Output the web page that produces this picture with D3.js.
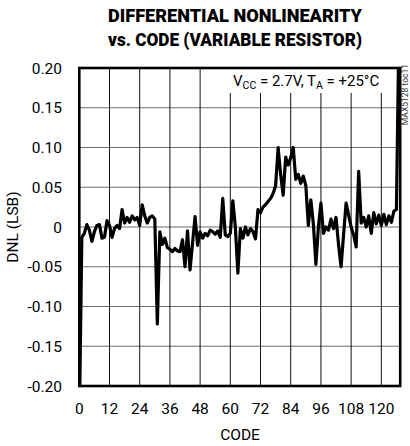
<!DOCTYPE html>
<html>
<head>
<meta charset="utf-8">
<script src="https://cdn.jsdelivr.net/npm/d3@7"></script>
<style>
  body { margin: 0; background: #fff; }
  text { font-family: Roboto, "DejaVu Sans", sans-serif; }
</style>
</head>
<body>
<div id="chart"></div>
<script>
// DNL per code, codes 0..127 (ends run off the chart)
var dnl = [
  -0.25, -0.013, -0.008, 0.003, -0.004, -0.018, -0.006, 0.002, 0.003, -0.014,
  -0.013, 0.008, 0.002, -0.013, -0.002, 0.002, -0.002, 0.022, 0.005, 0.012,
  0.006, 0.014, 0.009, 0.012, 0.002, 0.028, 0.014, 0.005, 0.012, 0.014,
  0.010, -0.122, -0.006, -0.022, -0.014, -0.026, -0.028, -0.031, -0.027, -0.030,
  -0.031, -0.016, -0.050, -0.005, -0.054, -0.020, 0.013, -0.023, -0.006, -0.014,
  -0.008, -0.011, -0.004, -0.006, -0.009, -0.005, -0.013, 0.036, -0.010, -0.012,
  -0.008, 0.033, 0.000, -0.058, -0.002, -0.014, 0.000, -0.010, -0.002, -0.006,
  -0.015, 0.022, 0.018, 0.025, 0.028, 0.032, 0.036, 0.042, 0.052, 0.100,
  0.066, 0.040, 0.088, 0.078, 0.087, 0.100, 0.060, 0.066, 0.055, 0.064,
  0.052, 0.002, 0.034, 0.004, -0.047, 0.000, 0.030, -0.008, 0.000, -0.004,
  0.010, -0.002, 0.012, -0.022, -0.050, -0.010, 0.030, 0.015, 0.000, -0.010,
  -0.025, 0.070, 0.005, 0.012, 0.000, 0.014, -0.008, 0.018, 0.004, 0.015,
  0.002, 0.016, 0.003, 0.014, 0.006, 0.020, 0.022, 0.25
];
var xTicks = [0, 12, 24, 36, 48, 60, 72, 84, 96, 108, 120];
var yTicks = [-0.20, -0.15, -0.10, -0.05, 0, 0.05, 0.10, 0.15, 0.20];
var yTickLabels = ["-0.20", "-0.15", "-0.10", "-0.05", "0", "0.05", "0.10", "0.15", "0.20"];

var W = 410, H = 446;
var plotL = 79.3, plotR = 400.2, plotT = 68, plotB = 386;

var svg = d3.select("#chart")
  .append("svg")
  .attr("width", W)
  .attr("height", H);

var x = d3.scaleLinear().domain([0, 127.5]).range([plotL, plotR]);
var y = d3.scaleLinear().domain([-0.2, 0.2]).range([plotB, plotT]);

// title
svg.append("text")
  .attr("x", 235).attr("y", 22)
  .attr("text-anchor", "middle")
  .attr("font-weight", 900)
  .attr("font-size", "19px")
  .attr("textLength", 254).attr("lengthAdjust", "spacingAndGlyphs")
  .text("DIFFERENTIAL NONLINEARITY");
svg.append("text")
  .attr("x", 235).attr("y", 46)
  .attr("text-anchor", "middle")
  .attr("font-weight", 900)
  .attr("font-size", "19px")
  .attr("textLength", 254).attr("lengthAdjust", "spacingAndGlyphs")
  .text("vs. CODE (VARIABLE RESISTOR)");

// grid
svg.selectAll(".hgrid")
  .data(yTicks.slice(1, -1))
  .enter()
  .append("line")
  .attr("class", "hgrid")
  .attr("x1", plotL).attr("x2", plotR)
  .attr("y1", function(d) { return y(d); })
  .attr("y2", function(d) { return y(d); })
  .attr("stroke", "#6e6e6e")
  .attr("stroke-width", 1.2);

svg.selectAll(".vgrid")
  .data(xTicks.slice(1))
  .enter()
  .append("line")
  .attr("class", "vgrid")
  .attr("x1", function(d) { return x(d); })
  .attr("x2", function(d) { return x(d); })
  .attr("y1", plotT).attr("y2", plotB)
  .attr("stroke", "#111")
  .attr("stroke-width", 1);

// condition label box
svg.append("rect")
  .attr("x", 229).attr("y", plotT + 1)
  .attr("width", 154).attr("height", 24)
  .attr("fill", "#fff");

var cond = svg.append("text")
  .attr("x", 233)
  .attr("y", 86)
  .attr("font-size", "15px")
  .attr("fill", "#000");
cond.append("tspan").text("V");
cond.append("tspan").attr("font-size", "10.5px").attr("dy", 3).text("CC");
cond.append("tspan").attr("dy", -3).text(" = 2.7V, T");
cond.append("tspan").attr("font-size", "10.5px").attr("dy", 3).text("A");
cond.append("tspan").attr("dy", -3).text(" = +25\u00B0C");

// data line
svg.append("clipPath")
  .attr("id", "plotClip")
  .append("rect")
  .attr("x", plotL).attr("y", plotT)
  .attr("width", plotR - plotL).attr("height", plotB - plotT);

var line = d3.line()
  .x(function(d, i) { return x(i); })
  .y(function(d) { return y(d); });

svg.append("path")
  .datum(dnl)
  .attr("clip-path", "url(#plotClip)")
  .attr("d", line)
  .attr("fill", "none")
  .attr("stroke", "#000")
  .attr("stroke-width", 3.2)
  .attr("stroke-linejoin", "round");

// frame
svg.append("rect")
  .attr("x", plotL).attr("y", plotT)
  .attr("width", plotR - plotL).attr("height", plotB - plotT)
  .attr("fill", "none")
  .attr("stroke", "#000")
  .attr("stroke-width", 2.6);

// tick labels
svg.selectAll(".xlab")
  .data(xTicks)
  .enter()
  .append("text")
  .attr("class", "xlab")
  .attr("x", function(d) { return x(d); })
  .attr("y", 414)
  .attr("text-anchor", "middle")
  .attr("font-size", "15.5px")
  .text(function(d) { return d; });

svg.selectAll(".ylab")
  .data(yTicks)
  .enter()
  .append("text")
  .attr("class", "ylab")
  .attr("x", 62)
  .attr("y", function(d) { return y(d) + 5.5; })
  .attr("text-anchor", "end")
  .attr("font-size", "15.5px")
  .text(function(d, i) { return yTickLabels[i]; });

// axis titles
svg.append("text")
  .attr("x", 240)
  .attr("y", 440)
  .attr("text-anchor", "middle")
  .attr("font-size", "15.5px")
  .text("CODE");

svg.append("text")
  .attr("transform", "translate(18," + y(0) + ") rotate(-90)")
  .attr("text-anchor", "middle")
  .attr("font-size", "15.5px")
  .text("DNL (LSB)");

// figure id
svg.append("text")
  .attr("transform", "translate(408,64) rotate(-90)")
  .attr("text-anchor", "end")
  .attr("font-size", "8.5px")
  .attr("fill", "#333")
  .text("MAX5128 toc11");
</script>
</body>
</html>
